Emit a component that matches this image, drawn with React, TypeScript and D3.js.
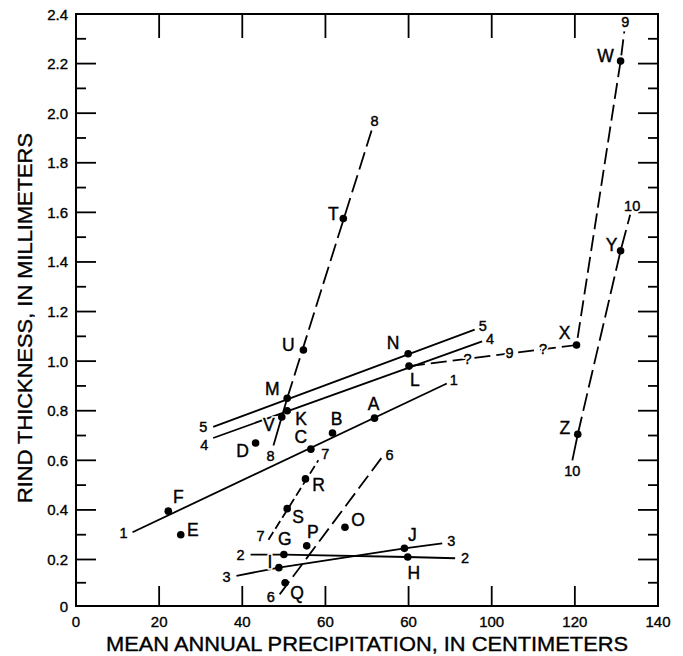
import React, { useEffect, useRef } from 'react';
import * as d3 from 'd3';

// sites: mean annual precipitation (cm) vs rind thickness (mm)
const siteNames = ['A', 'B', 'C', 'D', 'E', 'F', 'G', 'H', 'I', 'J', 'K', 'L', 'M',
  'N', 'O', 'P', 'Q', 'R', 'S', 'T', 'U', 'V', 'W', 'X', 'Y', 'Z'];
const sitePrecip = [71.8, 61.7, 56.5, 43.2, 25.2, 22.2, 50, 79.8, 48.8, 79, 50.8, 80.1, 50.8,
  79.9, 64.7, 55.5, 50.3, 55.2, 50.8, 64.3, 54.7, 49.5, 131, 120.4, 131, 120.7];
const siteRind = [0.77, 0.71, 0.645, 0.67, 0.3, 0.395, 0.22, 0.21, 0.165, 0.245, 0.8, 0.98, 0.85,
  1.03, 0.33, 0.255, 0.1, 0.525, 0.405, 1.575, 1.045, 0.775, 2.21, 1.065, 1.445, 0.705];

// numbered lines (precipitation, rind thickness) vertices
const line1 = [[13.6, 0.31], [89.2, 0.91]];
const line2 = [[42, 0.22], [50, 0.22], [79.8, 0.21], [91.2, 0.205]];
const line3 = [[38.6, 0.13], [48.8, 0.165], [79, 0.245], [88.1, 0.265]];
const line4 = [[33, 0.69], [97.7, 1.08]];
const line5 = [[33, 0.735], [95.9, 1.127]];
const line6 = [[49, 0.05], [73.5, 0.61]];
const line7 = [[46.3, 0.28], [58.3, 0.6]];
const line8a = [[47.5, 0.66], [50.8, 0.85]];
const line8b = [[50.8, 0.85], [71.1, 1.93]];
const line9 = [[80.1, 0.98], [120.4, 1.065], [131, 2.21], [131.9, 2.33]];
const line10a = [[119.4, 0.6], [120.7, 0.705]];
const line10b = [[120.7, 0.705], [131, 1.445], [133.3, 1.59]];

const xTicks = [0, 20, 40, 60, 80, 100, 120, 140];
const xTickLabels = ['0', '20', '40', '60', '60', '100', '120', '140'];
const yTicks = [0, 0.2, 0.4, 0.6, 0.8, 1.0, 1.2, 1.4, 1.6, 1.8, 2.0, 2.2, 2.4];
const yTickLabels = ['0', '0.2', '0.4', '0.6', '0.8', '1.0', '1.2', '1.4', '1.6', '1.8', '2.0', '2.2', '2.4'];

// label placement (px from the dot)
const siteLabelOffset = {
  A: [-1, -14], B: [4, -14], C: [-10, -12], D: [-13, 8], E: [12, -5], F: [10, -14],
  G: [1, -16], H: [6, 16], I: [-9, -6], J: [8, -13], K: [14, 8], L: [6, 14],
  M: [-15, -9], N: [-15, -11], O: [13, -7], P: [6, -14], Q: [12, 10], R: [13, 6],
  S: [11, 8], T: [-10, -5], U: [-15, -5], V: [-13, 8], W: [-15, -5], X: [-12, -12],
  Y: [-9, -6], Z: [-13, -6],
};

const FONT = '"Liberation Sans", Arial, Helvetica, sans-serif';

export default function App() {
  const ref = useRef<SVGSVGElement>(null);

  useEffect(() => {
    document.body.style.margin = '0';
    const svg = d3.select(ref.current);
    svg.selectAll('*').remove();

    const x = d3.scaleLinear().domain([0, 140]).range([76, 658]);
    const y = d3.scaleLinear().domain([0, 0.2, 2.4]).range([606, 559.5, 14]);
    const line = d3.line<number[]>().x(d => x(d[0])).y(d => y(d[1]));

    const g = svg.append('g');

    // frame
    g.append('rect')
      .attr('x', x(0)).attr('y', y(2.4))
      .attr('width', x(140) - x(0)).attr('height', y(0) - y(2.4))
      .attr('fill', 'none').attr('stroke', '#000').attr('stroke-width', 2);

    // y ticks both sides
    const yMinor = d3.range(1, 24).map(i => i / 10);
    yMinor.forEach((v, i) => {
      const len = (i + 1) % 2 === 0 ? 20 : 10;
      g.append('line').attr('x1', x(0)).attr('x2', x(0) + len)
        .attr('y1', y(v)).attr('y2', y(v)).attr('stroke', '#000').attr('stroke-width', 1.8);
      g.append('line').attr('x1', x(140)).attr('x2', x(140) - len)
        .attr('y1', y(v)).attr('y2', y(v)).attr('stroke', '#000').attr('stroke-width', 1.8);
    });
    // x ticks bottom and top
    xTicks.slice(1, -1).forEach(v => {
      g.append('line').attr('x1', x(v)).attr('x2', x(v))
        .attr('y1', y(0)).attr('y2', y(0) - 20).attr('stroke', '#000').attr('stroke-width', 1.8);
      g.append('line').attr('x1', x(v)).attr('x2', x(v))
        .attr('y1', y(2.4)).attr('y2', y(2.4) + 24).attr('stroke', '#000').attr('stroke-width', 1.8);
    });

    const axisText = g.append('g').attr('font-family', FONT).attr('fill', '#000')
      .attr('stroke', '#000').attr('stroke-width', 0.35);

    // tick labels
    axisText.selectAll('.xl').data(xTicks).enter().append('text')
      .attr('x', d => x(d)).attr('y', 627)
      .attr('text-anchor', 'middle').attr('font-size', 15)
      .text((d, i) => xTickLabels[i]);
    axisText.selectAll('.yl').data(yTicks).enter().append('text')
      .attr('x', 68).attr('y', d => y(d) + 5.5)
      .attr('text-anchor', 'end').attr('font-size', 15)
      .text((d, i) => yTickLabels[i]);

    // axis titles
    axisText.append('text')
      .attr('x', 367).attr('y', 651).attr('text-anchor', 'middle')
      .attr('font-size', 19.5)
      .attr('textLength', 522).attr('lengthAdjust', 'spacingAndGlyphs')
      .text('MEAN ANNUAL PRECIPITATION, IN CENTIMETERS');
    axisText.append('text')
      .attr('transform', 'translate(32,318) rotate(-90)').attr('text-anchor', 'middle')
      .attr('font-size', 19.5)
      .attr('textLength', 370).attr('lengthAdjust', 'spacingAndGlyphs')
      .text('RIND THICKNESS, IN MILLIMETERS');

    // lines
    const series = [
      { id: '1', pts: line1, dash: null, start: [-9, 1], end: [7, -3] },
      { id: '2', pts: line2, dash: null, start: [-10, 0], end: [10, 0] },
      { id: '3', pts: line3, dash: null, start: [-10, 1], end: [9, -2] },
      { id: '4', pts: line4, dash: null, start: [-9, 7], end: [8, -2] },
      { id: '5', pts: line5, dash: null, start: [-10, 0], end: [8, -4] },
      { id: '6', pts: line6, dash: '16,6', start: [-9, 3], end: [8, -3] },
      { id: '7', pts: line7, dash: '9,4', start: [-8, -4], end: [7, -6] },
      { id: '8', pts: line8a, dash: null, start: [-3, 11], end: null },
      { id: '8', pts: line8b, dash: '18,6', start: null, end: [3, -10] },
      { id: '9', pts: line9, dash: '16,6', start: null, end: [1, -9] },
      { id: '10', pts: line10a, dash: null, start: [0, 11], end: null },
      { id: '10', pts: line10b, dash: '18,6', start: null, end: [2, -9] },
    ];

    series.forEach(s => {
      g.append('path').attr('d', line(s.pts)).attr('fill', 'none')
        .attr('stroke', '#000').attr('stroke-width', 1.8)
        .attr('stroke-dasharray', s.dash);
    });

    // collect all annotation texts, then draw a white knock-out under each
    const notes: { x: number; y: number; t: string; size: number }[] = [];

    series.forEach(s => {
      const a = s.pts[0];
      const b = s.pts[s.pts.length - 1];
      if (s.start) notes.push({ x: x(a[0]) + s.start[0], y: y(a[1]) + s.start[1], t: s.id, size: 14.5 });
      if (s.end) notes.push({ x: x(b[0]) + s.end[0], y: y(b[1]) + s.end[1], t: s.id, size: 14.5 });
    });

    // marks along the L–X part of line 9
    const p0 = line9[0];
    const p1 = line9[1];
    [[0.35, '?'], [0.6, '9'], [0.8, '?']].forEach(([t, txt]) => {
      notes.push({
        x: x(p0[0]) + (x(p1[0]) - x(p0[0])) * (t as number),
        y: y(p0[1]) + (y(p1[1]) - y(p0[1])) * (t as number),
        t: txt as string, size: 14.5,
      });
    });

    // sites
    g.selectAll('.dot').data(siteNames).enter().append('circle')
      .attr('cx', (d, i) => x(sitePrecip[i])).attr('cy', (d, i) => y(siteRind[i]))
      .attr('r', 3.8).attr('fill', '#000');

    siteNames.forEach((n, i) => {
      const off = siteLabelOffset[n];
      notes.push({ x: x(sitePrecip[i]) + off[0], y: y(siteRind[i]) + off[1], t: n, size: 17.5 });
    });

    const halo = g.append('g').attr('font-family', FONT)
      .attr('text-anchor', 'middle').attr('dominant-baseline', 'central')
      .attr('fill', '#fff').attr('stroke', '#fff').attr('stroke-width', 3.5);
    const ink = g.append('g').attr('font-family', FONT)
      .attr('text-anchor', 'middle').attr('dominant-baseline', 'central')
      .attr('fill', '#000').attr('stroke', '#000').attr('stroke-width', 0.4);
    [halo, ink].forEach(layer => {
      layer.selectAll('text').data(notes).enter().append('text')
        .attr('x', d => d.x).attr('y', d => d.y).attr('font-size', d => d.size)
        .text(d => d.t);
    });
  }, []);

  return <svg ref={ref} width={683} height={656} style={{ display: 'block', background: '#fff' }} />;
}
